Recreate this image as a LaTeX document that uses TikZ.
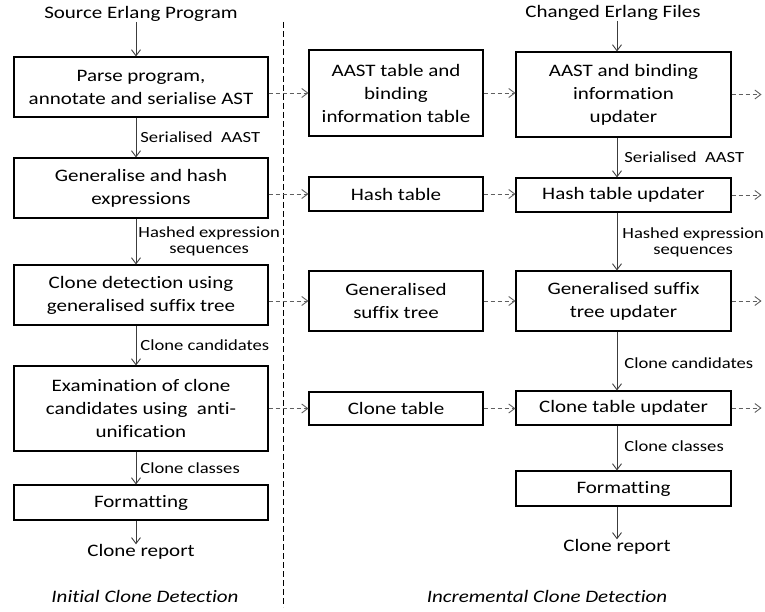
\documentclass[tikz,border=0pt]{standalone}
\usepackage{fontspec}
\setmainfont[FakeStretch=1.2, Ligatures=NoCommon]{Carlito}
\usepackage{tikz}
\usetikzlibrary{arrows.meta}
\usetikzlibrary{calc}
\definecolor{arrgray}{RGB}{60,60,60}
\definecolor{dashgray}{RGB}{95,95,95}
\tikzset{
  stage/.style={draw=black, line width=1.1pt, align=center, inner sep=2pt,
    font=\fontsize{17.5}{23}\selectfont},
  colA/.style={stage, minimum width=254pt},
  colB/.style={stage, minimum width=174pt},
  colC/.style={stage, minimum width=215pt},
  txt/.style={align=center, inner sep=0pt, font=\fontsize{17.5}{23}\selectfont},
  lbl/.style={align=center, inner sep=0pt, text=black, font=\fontsize{15.5}{16}\selectfont},
  flow/.style={arrgray, line width=0.9pt, ->},
  dasharrow/.style={dashgray, line width=0.9pt, dash pattern=on 4pt off 3pt, ->}
}

\begin{document}
\begin{tikzpicture}[x=1pt, y=-1pt, >={Straight Barb[length=6pt,width=9pt]}]
\useasboundingbox (0,0) rectangle (765,612);

% initial clone detection
\node[txt] (srcA) at (141,14) {Source Erlang Program};
\node[colA, minimum height=60pt] (parse) at (141,87) {Parse program,\\annotate and serialise AST};
\node[colA, minimum height=60pt] (hashgen) at (141,188) {Generalise and hash\\expressions};
\node[colA, minimum height=60pt] (detect) at (141,295) {Clone detection using\\generalised suffix tree};
\node[colA, minimum height=85pt] (exam) at (141,408.5) {Examination of clone\\candidates using~~anti-\\unification};
\node[colA, minimum height=35pt] (fmtA) at (141,502.5) {Formatting};
\node[txt] (repA) at (141,552) {Clone report};
\node[txt, font=\fontsize{17.5}{23}\selectfont\itshape] (capA) at (145,596) {Initial Clone Detection};

\draw[flow] ([xshift=-5pt]srcA.south) -- ([xshift=-5pt]parse.north);
\draw[flow] ([xshift=-5pt]parse.south) -- ([xshift=-5pt]hashgen.north)
  node[lbl, midway, anchor=west, xshift=4pt] {Serialised~~AAST};
\draw[flow] ([xshift=-5pt]hashgen.south) -- ([xshift=-5pt]detect.north)
  node[lbl, midway, anchor=west, xshift=2pt] {Hashed expression\\sequences};
\draw[flow] ([xshift=-5pt]detect.south) -- ([xshift=-5pt]exam.north)
  node[lbl, midway, anchor=west, xshift=4pt] {Clone candidates};
\draw[flow] ([xshift=-5pt]exam.south) -- ([xshift=-5pt]fmtA.north)
  node[lbl, midway, anchor=west, xshift=4pt] {Clone classes};
\draw[flow] ([xshift=-5pt]fmtA.south) -- ([xshift=-5pt]repA.north);

% separator
\coordinate (sepT) at (283,22);
\coordinate (sepB) at (283,607);
\draw[black, line width=0.8pt, dash pattern=on 6pt off 3pt] (sepT) -- (sepB);

% stored tables
\node[colB, minimum height=86pt] (asttab) at (396,93) {AAST table and\\binding\\information table};
\node[colB, minimum height=34pt] (hashtab) at (396,194) {Hash table};
\node[colB, minimum height=60pt] (stree) at (396,301) {Generalised\\suffix tree};
\node[colB, minimum height=33pt] (clonetab) at (396,408.5) {Clone table};

% incremental clone detection
\node[txt] (srcB) at (613,13) {Changed Erlang Files};
\node[colC, minimum height=85pt] (astupd) at (623.5,94.5) {AAST and binding\\information\\updater};
\node[colC, minimum height=34pt] (hashupd) at (623.5,195) {Hash table updater};
\node[colC, minimum height=60pt] (streeupd) at (623.5,301) {Generalised suffix\\tree updater};
\node[colC, minimum height=34pt] (cloneupd) at (623.5,408) {Clone table updater};
\node[colC, minimum height=35pt] (fmtB) at (623.5,488.5) {Formatting};
\node[txt] (repB) at (617,547) {Clone report};
\node[txt, font=\fontsize{17.5}{23}\selectfont\itshape] (capB) at (547,596) {Incremental Clone Detection};

\draw[flow] (srcB.south -| 617,0) -- (astupd.north -| 617,0);
\draw[flow] (astupd.south -| 617,0) -- (hashupd.north -| 617,0)
  node[lbl, midway, anchor=west, xshift=7pt] {Serialised~~AAST};
\draw[flow] (hashupd.south -| 617,0) -- (streeupd.north -| 617,0)
  node[lbl, midway, anchor=west, xshift=5pt, yshift=-1pt] {Hashed expression\\sequences};
\draw[flow] (streeupd.south -| 617,0) -- (cloneupd.north -| 617,0)
  node[lbl, midway, anchor=west, xshift=7pt, yshift=-2pt] {Clone candidates};
\draw[flow] (cloneupd.south -| 617,0) -- (fmtB.north -| 617,0)
  node[lbl, midway, anchor=west, xshift=7pt, yshift=2pt] {Clone classes};
\draw[flow] (fmtB.south -| 617,0) -- (repB.north);

% data passed across
\draw[dasharrow] (parse.east |- asttab.west) -- (asttab.west);
\draw[dasharrow] (hashgen.east |- hashtab.west) -- (hashtab.west);
\draw[dasharrow] (detect.east |- stree.west) -- (stree.west);
\draw[dasharrow] (exam.east |- clonetab.west) -- (clonetab.west);
\draw[dasharrow] (asttab.east) -- (astupd.west |- asttab.east);
\draw[dasharrow] (hashtab.east) -- (hashupd.west |- hashtab.east);
\draw[dasharrow] (stree.east) -- (streeupd.west |- stree.east);
\draw[dasharrow] (clonetab.east) -- (cloneupd.west |- clonetab.east);
\foreach \n in {astupd,hashupd,streeupd,cloneupd} \draw[dasharrow] (\n.east) --++(30,0);
\end{tikzpicture}
\end{document}
